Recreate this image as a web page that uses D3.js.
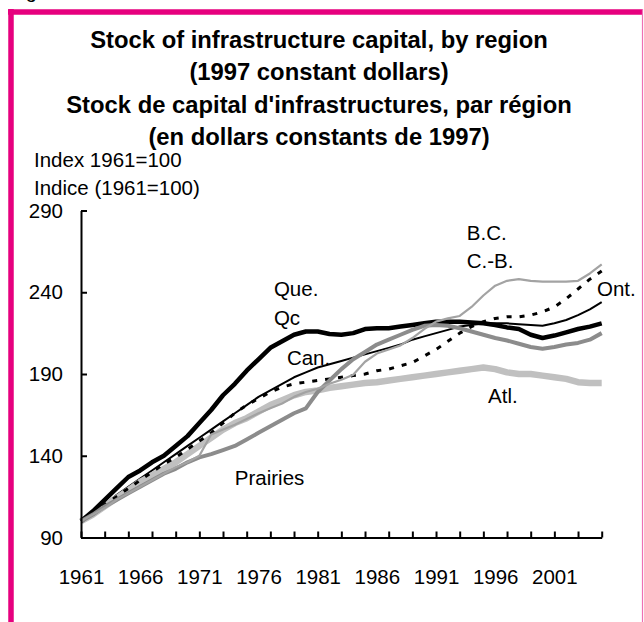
<!DOCTYPE html>
<html>
<head>
<meta charset="utf-8">
<script src="https://cdn.jsdelivr.net/npm/d3@7"></script>
<style>
  body { margin: 0; background: #fff; }
  text { font-family: "Liberation Sans", Arial, Helvetica, sans-serif; }
</style>
</head>
<body>
<svg id="chart" width="644" height="622"></svg>
<script>
// categories
var years = [1961,1962,1963,1964,1965,1966,1967,1968,1969,1970,
             1971,1972,1973,1974,1975,1976,1977,1978,1979,1980,
             1981,1982,1983,1984,1985,1986,1987,1988,1989,1990,
             1991,1992,1993,1994,1995,1996,1997,1998,1999,2000,
             2001,2002,2003,2004,2005];

// index values, 1961 = 100
var can = [100,105,110,116,121,126,131,136,141,146,
           151,156,161,166,171,176,180,184,188,191,
           194,196,198,200,202,204,206,208,211,213,
           215,217,219,220,221,221,221,220.5,220,219.5,
           221,223,226,229.5,234];
var atl = [100,104,109,114,119,124,128,132,136,141,
           146,151,156,160,163,167,171,174,177,179,
           180,181.5,182.5,183.5,184.5,185,186,187,188,189,
           190,191,192,193,194,193,191,190,190,189,
           188,187,185,184.5,184.5];
var que = [100,106,113,120,127,131,136,140,146,152,
           160,168,177,184,192,199,206,210,214,216,
           216,214.5,214,215,217.5,218,218,219,220,221,
           222,222,222,221.5,221,220,218.5,217.5,214,212,
           213.5,215.5,217.5,219,221];
var ont = [100,105,110,115,120,125,130,135,139,144,
           149,154,160,166,171,175,179,182,184,185,
           186,187,188,189,190,192,193,195,197,201,
           205,210,215,219,222,224,225,225,226,228,
           231,236,242,248,253];
var pra = [100,104,109,113,117,121,125,129,132,136,
           139,141,143.5,146,150,154,158,162,166,169,
           179,186,193,199,203.5,208,211,214,217,219.5,
           220,219.5,218,216,214,212,210.5,208.5,206.5,205.5,
           206.5,208,209,211,215];
var bc  = [100,104,108,113,117,121,125,129,133,136,
           140,153,156,159,162.5,166,169,172,176,179,
           181,184,186.5,189.5,197.5,202.5,205,207.5,212,217.5,
           222,224,225.5,231,238,244,247,248,247,246.5,
           246.5,246.5,247,251.5,257];

// axis ticks
var yTicks = [90, 140, 190, 240, 290];
var xTickYears = [1961,1963,1965,1967,1969,1971,1973,1975,1977,1979,1981,1983,
                  1985,1987,1989,1991,1993,1995,1997,1999,2001,2003,2005];
var xLabelYears = [1961,1966,1971,1976,1981,1986,1991,1996,2001];

var titleLines = ["Stock of infrastructure capital, by region",
                  "(1997 constant dollars)",
                  "Stock de capital d'infrastructures, par région",
                  "(en dollars constants de 1997)"];

var series = [
  { name: "Can.", values: can, color: "#000000", width: 2,   dash: null },
  { name: "Atl.", values: atl, color: "#c0c0c0", width: 6.5, dash: null },
  { name: "Que.", values: que, color: "#000000", width: 4.5, dash: null },
  { name: "Ont.", values: ont, color: "#000000", width: 3,   dash: "5,8" },
  { name: "Prairies", values: pra, color: "#8c8c8c", width: 4, dash: null },
  { name: "B.C.", values: bc,  color: "#a3a3a3", width: 2.2, dash: null }
];

// label anchors in data units (year, index)
var labels = [
  { text: "Que.",     year: 1977.3, value: 237.5 },
  { text: "Qc",       year: 1977.3, value: 220.2 },
  { text: "Can.",     year: 1978.4, value: 195.7 },
  { text: "Prairies", year: 1974.0, value: 122.3 },
  { text: "B.C.",     year: 1993.6, value: 272.2 },
  { text: "C.-B.",    year: 1993.6, value: 255.0 },
  { text: "Ont.",     year: 2004.6, value: 238.0 },
  { text: "Atl.",     year: 1995.4, value: 172.5 }
];

var svg = d3.select("#chart");

var x = d3.scaleLinear().domain([1961, 2005]).range([81, 601.7]);
var y = d3.scaleLinear().domain([90, 290]).range([537.5, 210.5]);

// frame
var pink = "#e6007e";
svg.append("line").attr("x1", 11).attr("x2", 11).attr("y1", 9).attr("y2", 622)
    .attr("stroke", pink).attr("stroke-width", 5.5);
svg.append("line").attr("x1", 8).attr("x2", 643).attr("y1", 12).attr("y2", 12)
    .attr("stroke", pink).attr("stroke-width", 5.5);
svg.append("line").attr("x1", 642.5).attr("x2", 642.5).attr("y1", 9).attr("y2", 622)
    .attr("stroke", "#ef70b4").attr("stroke-width", 1.2);

// caption above the frame, cut off by the page edge as in the original
svg.append("text").attr("x", 9).attr("y", -2).attr("font-size", 20).text("Figure");

// title
svg.selectAll("text.title").data(titleLines).enter().append("text")
    .attr("class", "title")
    .attr("x", 319)
    .attr("y", function(d, i) { return 48 + i * 32.3; })
    .attr("text-anchor", "middle")
    .attr("font-size", 23.8)
    .attr("font-weight", "bold")
    .text(function(d) { return d; });

svg.append("text").attr("x", 34).attr("y", 167).attr("font-size", 20.5).text("Index 1961=100");
svg.append("text").attr("x", 34).attr("y", 195).attr("font-size", 20.5).text("Indice (1961=100)");

// lines
var line = d3.line()
    .x(function(d, i) { return x(years[i]); })
    .y(function(d) { return y(d); });

svg.selectAll("path.series").data(series).enter().append("path")
    .attr("class", "series")
    .attr("fill", "none")
    .attr("stroke", function(d) { return d.color; })
    .attr("stroke-width", function(d) { return d.width; })
    .attr("stroke-dasharray", function(d) { return d.dash; })
    .attr("stroke-linejoin", "round")
    .attr("d", function(d) { return line(d.values); });

// axes
var yAxis = svg.append("g").attr("transform", "translate(81,0)")
    .call(d3.axisLeft(y).tickValues(yTicks).tickSizeInner(-6).tickSizeOuter(0).tickPadding(18));
var xAxis = svg.append("g").attr("transform", "translate(0,537.5)")
    .call(d3.axisBottom(x).tickValues(xTickYears).tickSizeInner(-6).tickSizeOuter(0).tickFormat(""));
var xLab = svg.append("g").attr("transform", "translate(0,537.5)")
    .call(d3.axisBottom(x).tickValues(xLabelYears).tickSize(0).tickPadding(32).tickFormat(d3.format("d")));
xLab.select(".domain").remove();

[yAxis, xAxis, xLab].forEach(function(g) {
  g.selectAll(".domain, .tick line").attr("stroke", "#000").attr("stroke-width", 2);
  g.selectAll("text").attr("font-size", 20.5).attr("fill", "#000")
      .attr("font-family", "'Liberation Sans', Arial, sans-serif");
});

// series labels
svg.selectAll("text.lbl").data(labels).enter().append("text")
    .attr("class", "lbl")
    .attr("x", function(d) { return x(d.year); })
    .attr("y", function(d) { return y(d.value); })
    .attr("font-size", 20.5)
    .text(function(d) { return d.text; });
</script>
</body>
</html>
